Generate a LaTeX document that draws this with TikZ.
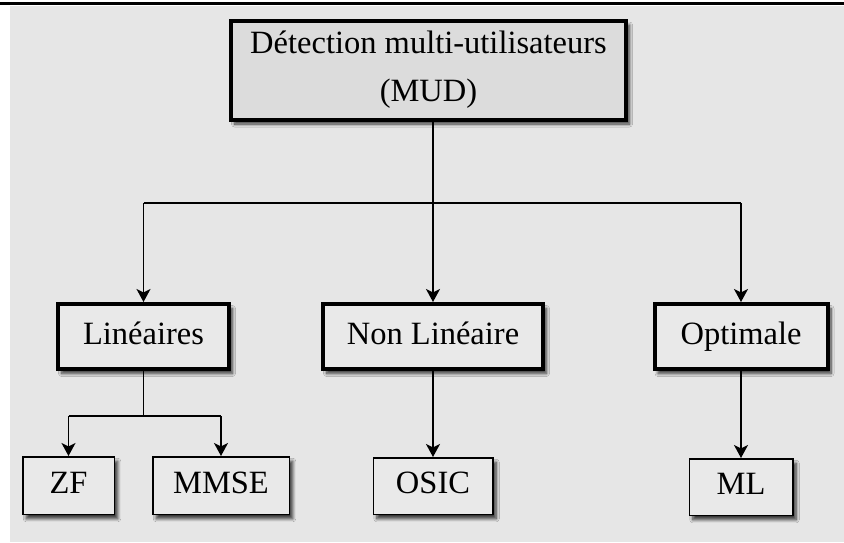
\documentclass[tikz,border=0pt]{standalone}
\usepackage{fontspec}
\setmainfont{Liberation Serif}
\usetikzlibrary{arrows.meta,shadows.blur}
\definecolor{panelgray}{HTML}{E6E6E6}
\definecolor{rootfill}{HTML}{DCDCDC}
\definecolor{boxfill}{HTML}{E9E9E9}
\begin{document}
\begin{tikzpicture}[x=1pt,y=-1pt,
  box/.style={draw=black, fill=boxfill, inner sep=0pt, align=center,
    font=\fontsize{32.5}{48}\selectfont,
    blur shadow={shadow xshift=3.5pt, shadow yshift=-4.5pt,
      shadow blur radius=3pt, shadow blur steps=8, shadow opacity=75}},
  oneline/.style={text height=22pt, text depth=7pt},
  majorbox/.style={box, line width=4pt},
  leafbox/.style={box, oneline, line width=1.5pt},
  link/.style={line width=1.5pt},
  arrowlink/.style={link, -{Stealth[length=13pt,width=14pt,inset=3.5pt]}}
]
\useasboundingbox (0,0) rectangle (844,542);
% page rule and grey panel
\fill[white] (0,0) rectangle (844,542);
\fill[panelgray] (10,6) rectangle (844,542);
\draw[line width=3pt] (0,3) -- (844,3);

% root
\node[majorbox, fill=rootfill, minimum width=395pt, minimum height=99pt]
  (root) at (428.5,70) {Détection multi-utilisateurs\\(MUD)};

% families
\node[majorbox, oneline, minimum width=171pt, minimum height=65pt] (lin) at (143.5,336.5) {Linéaires};
\node[majorbox, oneline, minimum width=220pt, minimum height=65pt] (nonlin) at (433,336.5) {Non Linéaire};
\node[majorbox, oneline, minimum width=173pt, minimum height=65pt] (opt) at (741,336.5) {Optimale};

% detectors
\node[leafbox, minimum width=91.5pt, minimum height=57.5pt] (zf) at (68.5,485.5) {ZF};
\node[leafbox, minimum width=136.5pt, minimum height=57.5pt] (mmse) at (221,485.5) {MMSE};
\node[leafbox, minimum width=119.5pt, minimum height=56.5pt] (osic) at (433,486) {OSIC};
\node[leafbox, minimum width=103.5pt, minimum height=56.5pt] (ml) at (741,487) {ML};

% root to families
\coordinate (bus) at (0,203);
\draw[arrowlink] (root.south -| nonlin.north) -- (nonlin.north);
\draw[link] (lin.north |- bus) -- (opt.north |- bus);
\draw[arrowlink] (lin.north |- bus) -- (lin.north);
\draw[arrowlink] (opt.north |- bus) -- (opt.north);

% families to detectors
\coordinate (linbus) at (0,416);
\draw[link] (lin.south) -- (lin.south |- linbus);
\draw[link] (zf.north |- linbus) -- (mmse.north |- linbus);
\draw[arrowlink] (zf.north |- linbus) -- (zf.north);
\draw[arrowlink] (mmse.north |- linbus) -- (mmse.north);
\draw[arrowlink] (nonlin.south) -- (osic.north);
\draw[arrowlink] (opt.south) -- (ml.north);
\end{tikzpicture}
\end{document}
